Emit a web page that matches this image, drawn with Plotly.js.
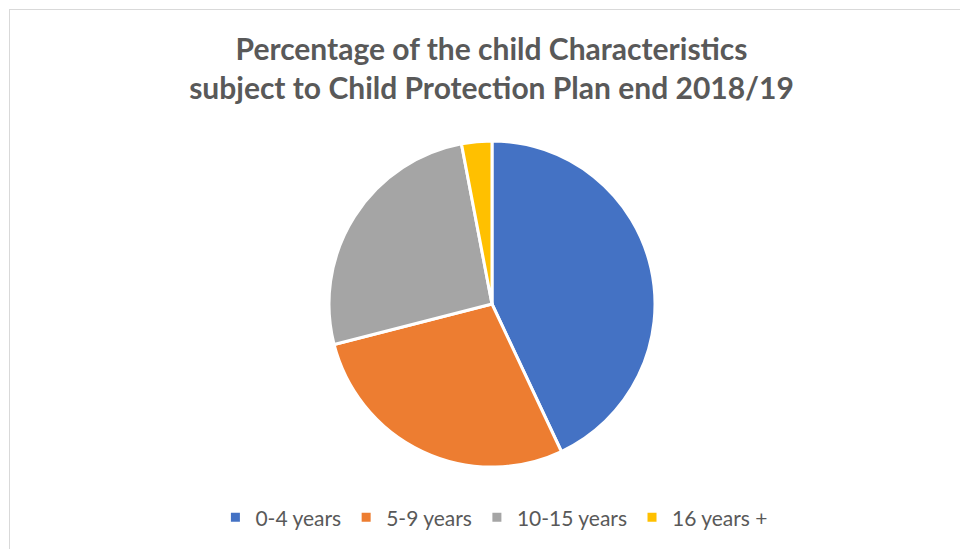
<!DOCTYPE html>
<html>
<head>
<meta charset="utf-8">
<script src="https://cdn.plot.ly/plotly-3.0.1.min.js"></script>
<style>
html, body { margin: 0; padding: 0; overflow: hidden; background: #fff; }
#wrap { position: relative; width: 960px; height: 549px; }
#chart { position: absolute; left: 0; top: 0; width: 960px; height: 549px; }
#frame { position: absolute; left: 9px; top: 9px; width: 1000px; height: 600px; border: 1px solid #d9d9d9; pointer-events: none; }
</style>
</head>
<body>
<div id="wrap">
  <div id="chart"></div>
  <div id="frame"></div>
</div>
<script>
const categories = ["0-4 years", "5-9 years", "10-15 years", "16 years +"];
const values = [43, 28, 26, 3];
const colors = ["#4472C4", "#ED7D31", "#A5A5A5", "#FFC000"];
const titleText = "Percentage of the child Characteristics<br>subject to Child Protection Plan end 2018/19";

const W = 960, H = 549;
const cx = 492, cy = 304, r = 163;

const trace = {
  type: "pie",
  labels: categories,
  values: values,
  sort: false,
  direction: "clockwise",
  rotation: 0,
  textinfo: "none",
  hoverinfo: "label+percent",
  marker: { colors: colors, line: { color: "#ffffff", width: 3 } },
  domain: { x: [(cx - r) / W, (cx + r) / W], y: [(H - (cy + r)) / H, (H - (cy - r)) / H] }
};

const layout = {
  width: W, height: H,
  margin: { l: 0, r: 0, t: 0, b: 0 },
  paper_bgcolor: "#ffffff",
  title: {
    text: "<b>" + titleText + "</b>",
    font: { family: "Lato, 'Open Sans', sans-serif", size: 30, color: "#595959" },
    x: 0.512, xanchor: "center", y: 0.89, yanchor: "middle"
  },
  showlegend: true,
  legend: {
    orientation: "h",
    x: 0.515, xanchor: "center",
    y: 0.057, yanchor: "middle",
    font: { family: "Lato, 'Open Sans', sans-serif", size: 21, color: "#595959" },
    traceorder: "normal",
    itemwidth: 30
  }
};

Plotly.newPlot("chart", [trace], layout, { displayModeBar: false, staticPlot: true });
</script>
</body>
</html>
